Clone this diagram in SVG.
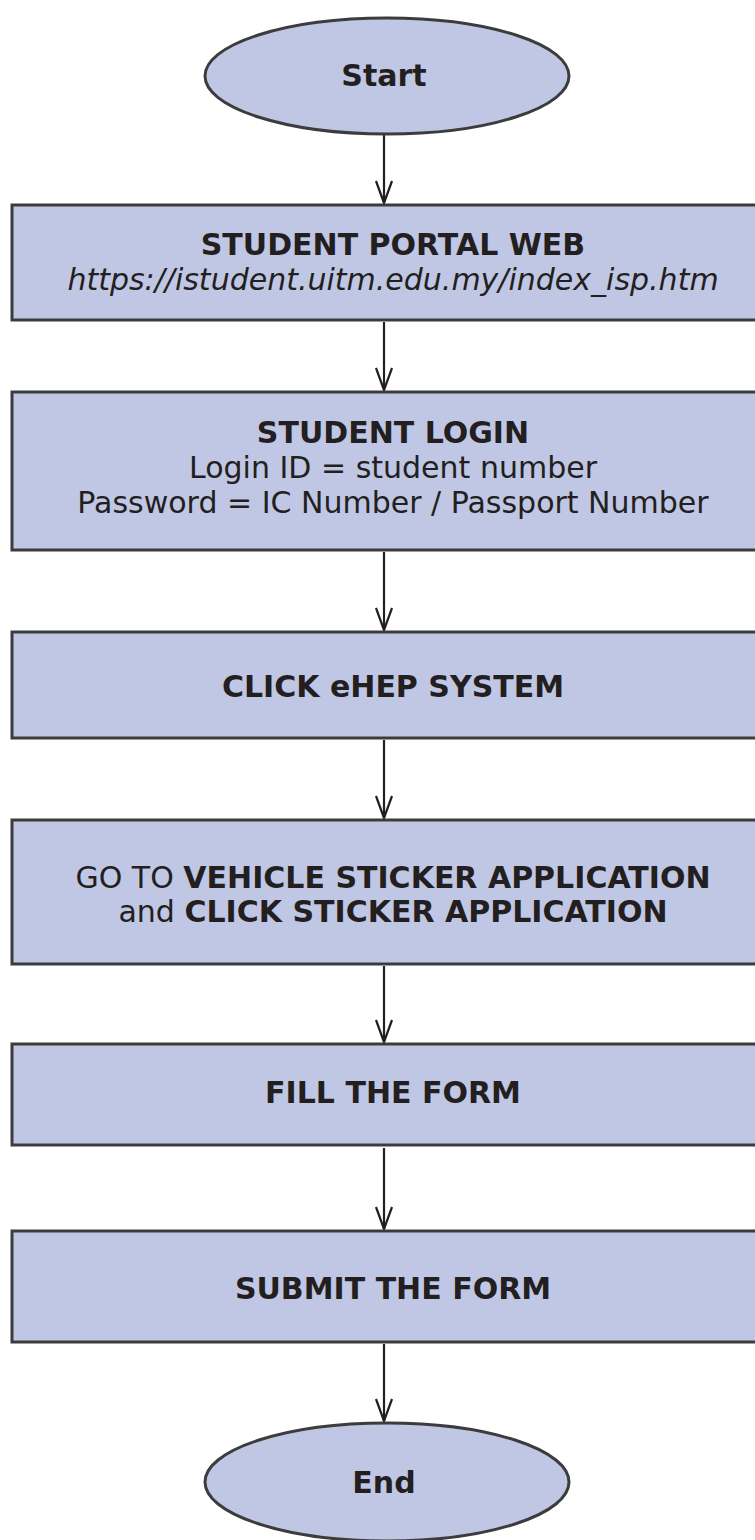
<svg xmlns="http://www.w3.org/2000/svg" width="755" height="1540" viewBox="0 0 755 1540">
<style>
.shape{fill:#c0c7e4;stroke:#3c3c3c;stroke-width:3}
.t{font-family:"DejaVu Sans",Verdana,sans-serif;font-size:30px;fill:#231f20;text-anchor:middle}
.b{font-weight:bold}
.i{font-style:italic}
.c{fill:none;stroke:#231f20;stroke-width:2.2}
</style>
<g id="connectors">
<path class="c" d="M384,134 V203"/>
<path d="M376,181 L384,203 L392,181" class="c"/>
<path class="c" d="M384,322 V390"/>
<path d="M376,368 L384,390 L392,368" class="c"/>
<path class="c" d="M384,552 V630"/>
<path d="M376,608 L384,630 L392,608" class="c"/>
<path class="c" d="M384,740 V818"/>
<path d="M376,796 L384,818 L392,796" class="c"/>
<path class="c" d="M384,966 V1042"/>
<path d="M376,1020 L384,1042 L392,1020" class="c"/>
<path class="c" d="M384,1148 V1229"/>
<path d="M376,1207 L384,1229 L392,1207" class="c"/>
<path class="c" d="M384,1344 V1421"/>
<path d="M376,1399 L384,1421 L392,1399" class="c"/>
</g>
<g id="start">
<ellipse class="shape" cx="387" cy="76" rx="182" ry="58"/>
<text class="t b" x="384" y="86">Start</text>
</g>
<g id="portal">
<rect class="shape" x="12" y="205" width="765" height="115"/>
<text class="t b" x="393" y="255">STUDENT PORTAL WEB</text>
<text class="t i" x="393" y="290">https://istudent.uitm.edu.my/index_isp.htm</text>
</g>
<g id="login">
<rect class="shape" x="12" y="392" width="765" height="158"/>
<text class="t b" x="393" y="443">STUDENT LOGIN</text>
<text class="t" x="393" y="478">Login ID = student number</text>
<text class="t" x="393" y="513">Password = IC Number / Passport Number</text>
</g>
<g id="ehep">
<rect class="shape" x="12" y="632" width="765" height="106"/>
<text class="t b" x="393" y="697">CLICK eHEP SYSTEM</text>
</g>
<g id="sticker">
<rect class="shape" x="12" y="820" width="765" height="144"/>
<text class="t" x="393" y="888">GO TO <tspan class="b">VEHICLE STICKER APPLICATION</tspan></text>
<text class="t" x="393" y="922">and <tspan class="b">CLICK STICKER APPLICATION</tspan></text>
</g>
<g id="fill">
<rect class="shape" x="12" y="1044" width="765" height="101"/>
<text class="t b" x="393" y="1103">FILL THE FORM</text>
</g>
<g id="submit">
<rect class="shape" x="12" y="1231" width="765" height="111"/>
<text class="t b" x="393" y="1299">SUBMIT THE FORM</text>
</g>
<g id="end">
<ellipse class="shape" cx="387" cy="1482" rx="182" ry="59"/>
<text class="t b" x="384" y="1493">End</text>
</g>
</svg>
